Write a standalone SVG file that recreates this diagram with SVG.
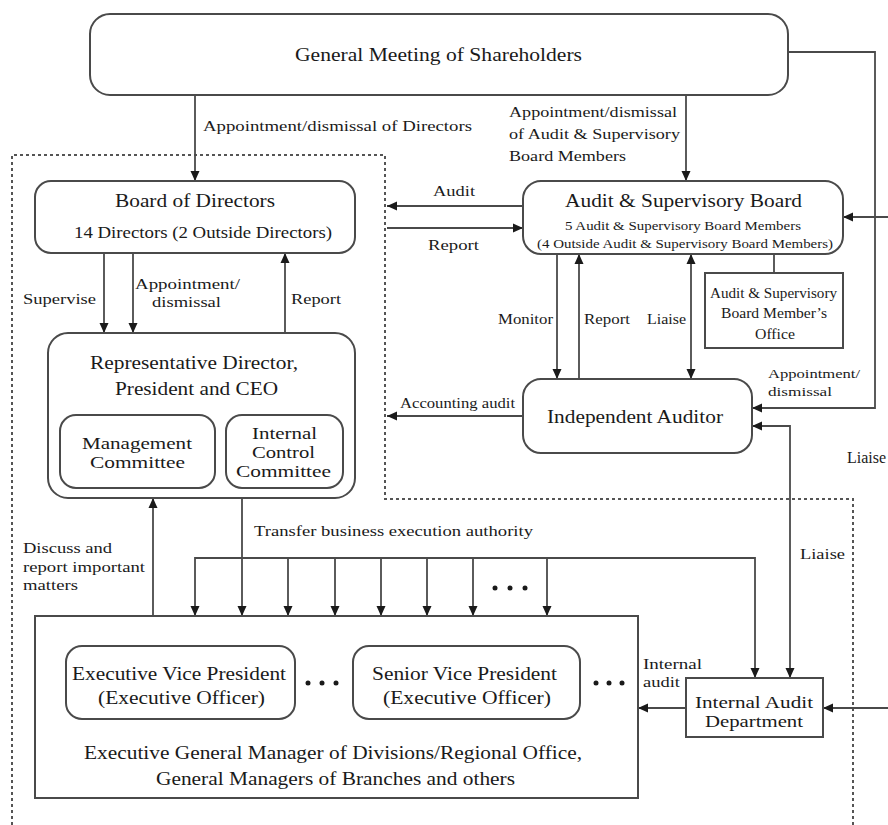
<svg xmlns="http://www.w3.org/2000/svg" width="888" height="825" viewBox="0 0 888 825">
<style>
  .box{fill:#fff;stroke:#4a4a4a;stroke-width:2}
  .ln{fill:none;stroke:#4a4a4a;stroke-width:1.8}
  .dot{fill:none;stroke:#555;stroke-width:2;stroke-dasharray:3 3}
  text{font-family:"Liberation Serif","Times New Roman",serif;fill:#1a1a1a}
  .t19{font-size:19px}
  .t18{font-size:18px}
  .t16{font-size:16px}
  .t14{font-size:14px}
  .t13{font-size:13px}
  .dots circle{fill:#1a1a1a}
</style>
<defs>
  <marker id="ah" markerUnits="userSpaceOnUse" markerWidth="10" markerHeight="10" refX="10" refY="5" orient="auto-start-reverse" viewBox="0 0 10 10">
    <path d="M0,0.5 L10,5 L0,9.5 z" fill="#1a1a1a"/>
  </marker>
</defs>
<rect width="888" height="825" fill="#fff"/>

<g id="scope">
  <path class="dot" d="M12,825 V155 H385 V499 H853 V825"/>
</g>

<g id="connectors">
  <path class="ln" d="M195,95 V181" marker-end="url(#ah)"/>
  <path class="ln" d="M686,95 V181" marker-end="url(#ah)"/>
  <path class="ln" d="M788,52 H875 V408 H752" marker-end="url(#ah)"/>
  <path class="ln" d="M888,217 H843" marker-end="url(#ah)"/>
  <path class="ln" d="M523,206 H387" marker-end="url(#ah)"/>
  <path class="ln" d="M387,228 H523" marker-end="url(#ah)"/>
  <path class="ln" d="M104,253 V333" marker-end="url(#ah)"/>
  <path class="ln" d="M133,253 V333" marker-end="url(#ah)"/>
  <path class="ln" d="M285,333 V253" marker-end="url(#ah)"/>
  <path class="ln" d="M557,254 V379" marker-end="url(#ah)"/>
  <path class="ln" d="M579,379 V254" marker-end="url(#ah)"/>
  <path class="ln" d="M691,254 V379" marker-start="url(#ah)" marker-end="url(#ah)"/>
  <path class="ln" d="M774,254 V273"/>
  <path class="ln" d="M523,416 H387" marker-end="url(#ah)"/>
  <path class="ln" d="M790,678 V426 H752" marker-start="url(#ah)" marker-end="url(#ah)"/>
  <path class="ln" d="M153,616 V498" marker-end="url(#ah)"/>
  <path class="ln" d="M242,498 V616" marker-end="url(#ah)"/>
  <path class="ln" d="M195,616 V558 H755 V678" marker-start="url(#ah)" marker-end="url(#ah)"/>
  <path class="ln" d="M288,558 V616" marker-end="url(#ah)"/>
  <path class="ln" d="M335,558 V616" marker-end="url(#ah)"/>
  <path class="ln" d="M381,558 V616" marker-end="url(#ah)"/>
  <path class="ln" d="M427,558 V616" marker-end="url(#ah)"/>
  <path class="ln" d="M473,558 V616" marker-end="url(#ah)"/>
  <path class="ln" d="M547,558 V616" marker-end="url(#ah)"/>
  <path class="ln" d="M686,708 H638" marker-end="url(#ah)"/>
  <path class="ln" d="M888,708 H823" marker-end="url(#ah)"/>
</g>

<g id="labels">
  <text class="t14" x="203" y="131" textLength="269" lengthAdjust="spacingAndGlyphs">Appointment/dismissal of Directors</text>
  <text class="t14" x="509" y="117" textLength="168" lengthAdjust="spacingAndGlyphs">Appointment/dismissal</text>
  <text class="t14" x="509" y="139" textLength="171" lengthAdjust="spacingAndGlyphs">of Audit &amp; Supervisory</text>
  <text class="t14" x="509" y="161" textLength="117" lengthAdjust="spacingAndGlyphs">Board Members</text>
  <text class="t14" x="23" y="304" textLength="73" lengthAdjust="spacingAndGlyphs">Supervise</text>
  <text class="t14" x="135" y="289" textLength="105" lengthAdjust="spacingAndGlyphs">Appointment/</text>
  <text class="t14" x="152" y="307" textLength="69" lengthAdjust="spacingAndGlyphs">dismissal</text>
  <text class="t14" x="291" y="304" textLength="50" lengthAdjust="spacingAndGlyphs">Report</text>
  <text class="t14" x="433" y="196" textLength="42" lengthAdjust="spacingAndGlyphs">Audit</text>
  <text class="t14" x="428" y="250" textLength="51" lengthAdjust="spacingAndGlyphs">Report</text>
  <text class="t14" x="498" y="324" textLength="55" lengthAdjust="spacingAndGlyphs">Monitor</text>
  <text class="t14" x="584" y="324" textLength="46" lengthAdjust="spacingAndGlyphs">Report</text>
  <text class="t14" x="647" y="324" textLength="39" lengthAdjust="spacingAndGlyphs">Liaise</text>
  <text class="t13" x="768" y="378" textLength="92" lengthAdjust="spacingAndGlyphs">Appointment/</text>
  <text class="t13" x="768" y="396" textLength="64" lengthAdjust="spacingAndGlyphs">dismissal</text>
  <text class="t14" x="400" y="408" textLength="115" lengthAdjust="spacingAndGlyphs">Accounting audit</text>
  <text class="t16" x="847" y="463">Liaise</text>
  <text class="t14" x="254" y="536" textLength="279" lengthAdjust="spacingAndGlyphs">Transfer business execution authority</text>
  <text class="t14" x="23" y="553" textLength="89" lengthAdjust="spacingAndGlyphs">Discuss and</text>
  <text class="t14" x="23" y="572" textLength="122" lengthAdjust="spacingAndGlyphs">report important</text>
  <text class="t14" x="23" y="590" textLength="55" lengthAdjust="spacingAndGlyphs">matters</text>
  <text class="t14" x="800" y="559" textLength="45" lengthAdjust="spacingAndGlyphs">Liaise</text>
  <text class="t14" x="643" y="669" textLength="59" lengthAdjust="spacingAndGlyphs">Internal</text>
  <text class="t14" x="643" y="687" textLength="37" lengthAdjust="spacingAndGlyphs">audit</text>
  <g class="dots">
    <circle cx="495" cy="588" r="2.5"/><circle cx="510" cy="588" r="2.5"/><circle cx="525" cy="588" r="2.5"/>
  </g>
</g>

<g id="gms">
  <rect class="box" x="90" y="14" width="698" height="81" rx="20"/>
  <text class="t19" x="295" y="61" textLength="287" lengthAdjust="spacingAndGlyphs">General Meeting of Shareholders</text>
</g>

<g id="bod">
  <rect class="box" x="35" y="181" width="320" height="72" rx="16"/>
  <text class="t19" x="115" y="207" textLength="160" lengthAdjust="spacingAndGlyphs">Board of Directors</text>
  <text class="t16" x="74" y="238" textLength="258" lengthAdjust="spacingAndGlyphs">14 Directors (2 Outside Directors)</text>
</g>

<g id="ceo">
  <rect class="box" x="48" y="333" width="307" height="165" rx="20"/>
  <text class="t19" x="90" y="369" textLength="208" lengthAdjust="spacingAndGlyphs">Representative Director,</text>
  <text class="t19" x="115" y="395" textLength="163" lengthAdjust="spacingAndGlyphs">President and CEO</text>
</g>

<g id="mgmt">
  <rect class="box" x="60" y="415" width="155" height="73" rx="16"/>
  <text class="t16" x="82" y="449" textLength="110" lengthAdjust="spacingAndGlyphs">Management</text>
  <text class="t16" x="90" y="468" textLength="95" lengthAdjust="spacingAndGlyphs">Committee</text>
</g>

<g id="icc">
  <rect class="box" x="226" y="415" width="117" height="73" rx="16"/>
  <text class="t16" x="252" y="439" textLength="65" lengthAdjust="spacingAndGlyphs">Internal</text>
  <text class="t16" x="252" y="458" textLength="63" lengthAdjust="spacingAndGlyphs">Control</text>
  <text class="t16" x="236" y="477" textLength="95" lengthAdjust="spacingAndGlyphs">Committee</text>
</g>

<g id="asb">
  <rect class="box" x="523" y="181" width="320" height="73" rx="18"/>
  <text class="t19" x="565" y="207" textLength="237" lengthAdjust="spacingAndGlyphs">Audit &amp; Supervisory Board</text>
  <text class="t13" x="565" y="230" textLength="236" lengthAdjust="spacingAndGlyphs">5 Audit &amp; Supervisory Board Members</text>
  <text class="t13" x="537" y="248" textLength="296" lengthAdjust="spacingAndGlyphs">(4 Outside Audit &amp; Supervisory Board Members)</text>
</g>

<g id="office">
  <rect class="box" x="705" y="273" width="138" height="75"/>
  <text class="t14" x="710" y="298" textLength="127" lengthAdjust="spacingAndGlyphs">Audit &amp; Supervisory</text>
  <text class="t14" x="721" y="318" textLength="106" lengthAdjust="spacingAndGlyphs">Board Member’s</text>
  <text class="t14" x="755" y="339" textLength="40" lengthAdjust="spacingAndGlyphs">Office</text>
</g>

<g id="auditor">
  <rect class="box" x="523" y="379" width="229" height="74" rx="18"/>
  <text class="t19" x="547" y="423" textLength="176" lengthAdjust="spacingAndGlyphs">Independent Auditor</text>
</g>

<g id="exec">
  <rect class="box" x="35" y="616" width="603" height="182"/>
  <text class="t19" x="84" y="759" textLength="498" lengthAdjust="spacingAndGlyphs">Executive General Manager of Divisions/Regional Office,</text>
  <text class="t19" x="156" y="785" textLength="359" lengthAdjust="spacingAndGlyphs">General Managers of Branches and others</text>
  <g class="dots">
    <circle cx="308" cy="683" r="2.5"/><circle cx="322" cy="683" r="2.5"/><circle cx="336" cy="683" r="2.5"/>
    <circle cx="596" cy="683" r="2.5"/><circle cx="609" cy="683" r="2.5"/><circle cx="622" cy="683" r="2.5"/>
  </g>
</g>

<g id="evp">
  <rect class="box" x="66" y="646" width="229" height="73" rx="16"/>
  <text class="t19" x="72" y="680" textLength="214" lengthAdjust="spacingAndGlyphs">Executive Vice President</text>
  <text class="t19" x="98" y="704" textLength="167" lengthAdjust="spacingAndGlyphs">(Executive Officer)</text>
</g>

<g id="svp">
  <rect class="box" x="353" y="646" width="227" height="73" rx="16"/>
  <text class="t19" x="372" y="680" textLength="185" lengthAdjust="spacingAndGlyphs">Senior Vice President</text>
  <text class="t19" x="383" y="704" textLength="168" lengthAdjust="spacingAndGlyphs">(Executive Officer)</text>
</g>

<g id="iad">
  <rect class="box" x="686" y="678" width="137" height="59"/>
  <text class="t16" x="695" y="708" textLength="118" lengthAdjust="spacingAndGlyphs">Internal Audit</text>
  <text class="t16" x="705" y="727" textLength="98" lengthAdjust="spacingAndGlyphs">Department</text>
</g>
</svg>
